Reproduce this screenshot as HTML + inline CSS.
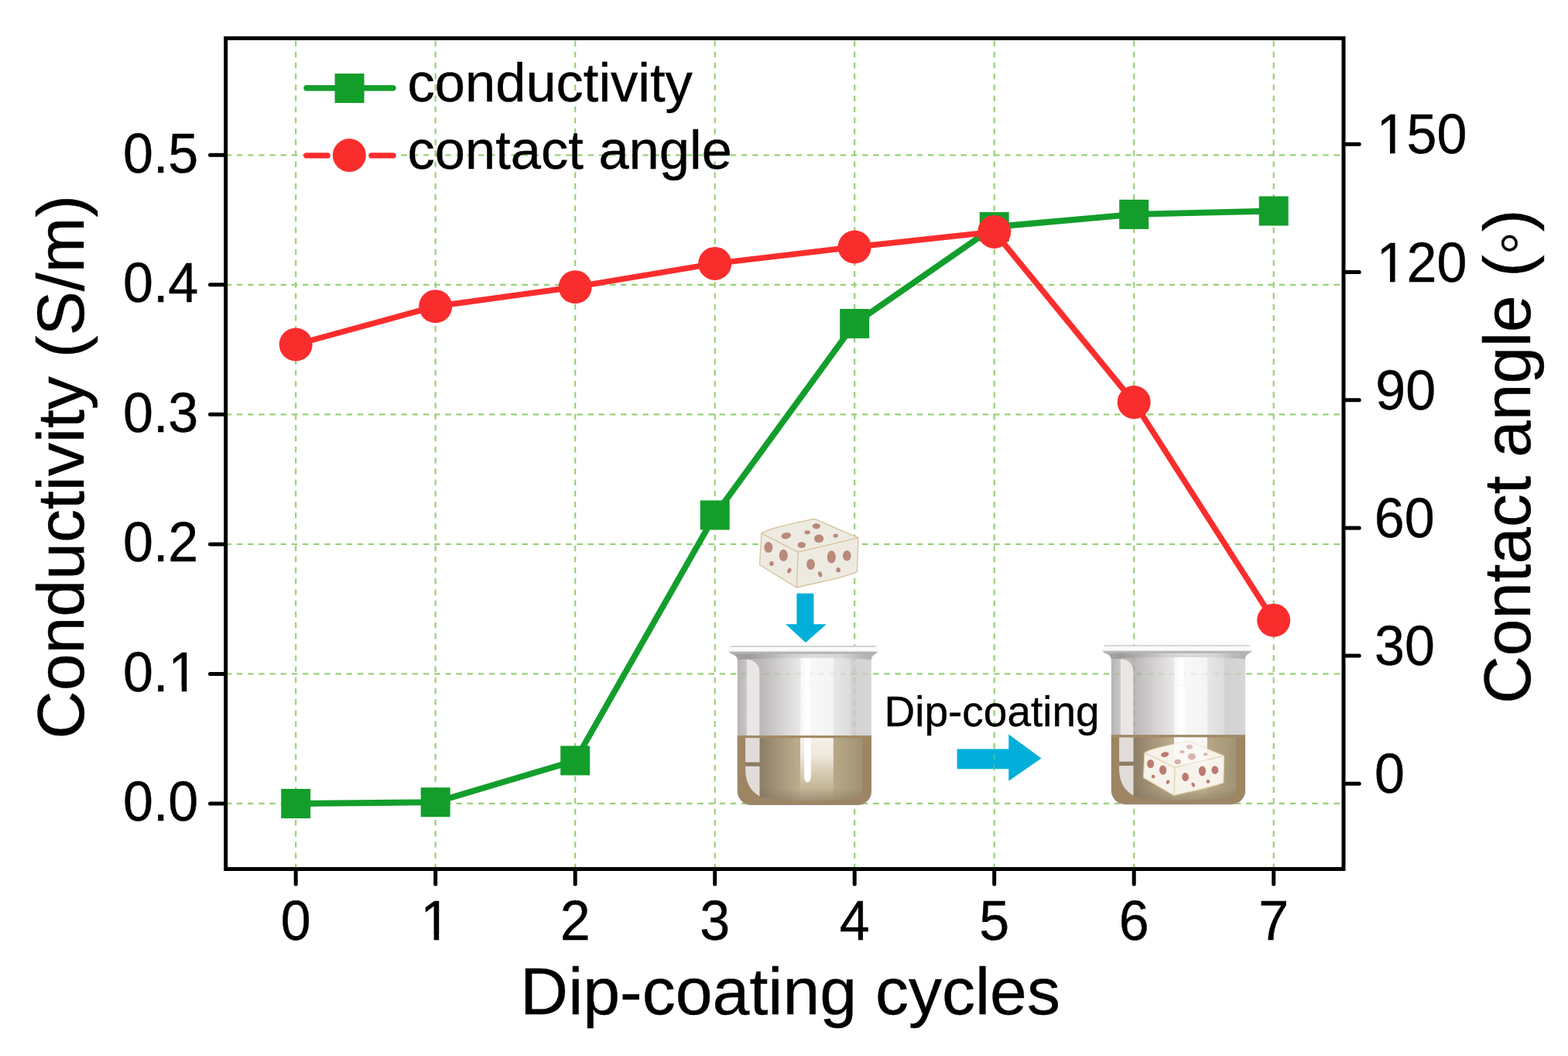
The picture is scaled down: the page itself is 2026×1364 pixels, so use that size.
<!DOCTYPE html>
<html><head><meta charset="utf-8">
<style>
html,body{margin:0;padding:0;background:#fff;}
body{width:2026px;height:1364px;overflow:hidden;}
svg{display:block;}
text{font-family:"Liberation Sans",Arial,sans-serif;fill:#000;stroke:#000;stroke-width:0.4px;}
</style></head>
<body>
<svg width="2026" height="1364" viewBox="0 0 2026 1364">
<rect x="0" y="0" width="2026" height="1364" fill="#fff"/>
<!-- grid -->
<g stroke="#98d178" stroke-width="2.2" stroke-dasharray="7.5 6.676" fill="none">
  <path d="M382.2 52.5V1120M562.7 52.5V1120M743.2 52.5V1120M923.7 52.5V1120M1104.2 52.5V1120M1284.7 52.5V1120M1465.2 52.5V1120M1645.7 52.5V1120"/>
  <path d="M291.7 1037.9H1734M291.7 870.4H1734M291.7 702.9H1734M291.7 535.3H1734M291.7 367.8H1734M291.7 200.3H1734"/>
</g>
<!-- frame -->
<rect x="291.7" y="49.4" width="1444.3" height="1073.1" fill="none" stroke="#000" stroke-width="5"/>
<!-- ticks -->
<g stroke="#000" stroke-width="5" stroke-linecap="round">
  <path d="M271.5 1037.9H291M271.5 870.4H291M271.5 702.9H291M271.5 535.3H291M271.5 367.8H291M271.5 200.3H291"/>
  <path d="M1737 1012.2H1756.2M1737 847H1756.2M1737 681.9H1756.2M1737 516.7H1756.2M1737 351.5H1756.2M1737 186.3H1756.2"/>
  <path d="M382.2 1124V1142.1M562.7 1124V1142.1M743.2 1124V1142.1M923.7 1124V1142.1M1104.2 1124V1142.1M1284.7 1124V1142.1M1465.2 1124V1142.1M1645.7 1124V1142.1"/>
</g>
<!-- left tick labels -->
<g font-size="70" text-anchor="end">
  <text transform="translate(256.3 1060.3) scale(1 1.04)">0.0</text>
  <text transform="translate(256.3 892.8) scale(1 1.04)">0.1</text>
  <text transform="translate(256.3 725.3) scale(1 1.04)">0.2</text>
  <text transform="translate(256.3 557.7) scale(1 1.04)">0.3</text>
  <text transform="translate(256.3 390.2) scale(1 1.04)">0.4</text>
  <text transform="translate(256.3 222.7) scale(1 1.04)">0.5</text>
</g>
<!-- right tick labels -->
<g font-size="70" text-anchor="middle">
  <text transform="translate(1795.4 1024.2) scale(1 1.04)">0</text>
  <text transform="translate(1815.0 859.0) scale(1 1.04)">30</text>
  <text transform="translate(1814.8 693.9) scale(1 1.04)">60</text>
  <text transform="translate(1816.2 528.7) scale(1 1.04)">90</text>
  <text transform="translate(1837.0 363.5) scale(1 1.04)">120</text>
  <text transform="translate(1837.0 198.3) scale(1 1.04)">150</text>
</g>
<!-- x tick labels -->
<g font-size="70" text-anchor="middle">
  <text transform="translate(382.2 1214.0) scale(1 1.04)">0</text>
  <text transform="translate(562.7 1214.0) scale(1 1.04)">1</text>
  <text transform="translate(743.2 1214.0) scale(1 1.04)">2</text>
  <text transform="translate(923.7 1214.0) scale(1 1.04)">3</text>
  <text transform="translate(1104.2 1214.0) scale(1 1.04)">4</text>
  <text transform="translate(1284.7 1214.0) scale(1 1.04)">5</text>
  <text transform="translate(1465.2 1214.0) scale(1 1.04)">6</text>
  <text transform="translate(1645.7 1214.0) scale(1 1.04)">7</text>
</g>
<!-- onefix --><g fill="#fff"><g transform="translate(256.3 892.8) scale(1 1.04)"><rect x="-34.61" y="-6.43" width="13.08" height="8.63"/><rect x="-14.94" y="-6.43" width="12.73" height="8.63"/></g><g transform="translate(1837.0 363.5) scale(1 1.04)"><rect x="-54.06" y="-6.43" width="13.08" height="8.63"/><rect x="-34.40" y="-6.43" width="12.73" height="8.63"/></g><g transform="translate(1837.0 198.3) scale(1 1.04)"><rect x="-54.06" y="-6.43" width="13.08" height="8.63"/><rect x="-34.40" y="-6.43" width="12.73" height="8.63"/></g><g transform="translate(562.7 1214.0) scale(1 1.04)"><rect x="-15.14" y="-6.43" width="13.08" height="8.63"/><rect x="4.52" y="-6.43" width="12.73" height="8.63"/></g></g><!-- /onefix -->
<!-- axis titles -->
<text x="1021" y="1310" font-size="86" text-anchor="middle">Dip-coating cycles</text>
<text transform="translate(108.3 603.2) rotate(-90)" font-size="86" text-anchor="middle">Conductivity (S/m)</text>
<text transform="translate(1977 589.8) rotate(-90)" font-size="85.5" text-anchor="middle">Contact angle (◦)</text>

<!-- INSET -->
<defs>
  <linearGradient id="rimG" x1="0" y1="0" x2="0" y2="1">
    <stop offset="0" stop-color="#c4c6c6"/>
    <stop offset="0.16" stop-color="#dcdede"/>
    <stop offset="0.22" stop-color="#fbfbfb"/>
    <stop offset="0.62" stop-color="#fafafa"/>
    <stop offset="0.74" stop-color="#c9cbcb"/>
    <stop offset="0.86" stop-color="#a9abab"/>
    <stop offset="1" stop-color="#b6b8b8"/>
  </linearGradient>
  <linearGradient id="glassG" x1="952.9" y1="0" x2="1126" y2="0" gradientUnits="userSpaceOnUse">
    <stop offset="0" stop-color="#a7a3a3"/>
    <stop offset="0.066" stop-color="#bcb8b8"/>
    <stop offset="0.067" stop-color="#a9a6a6"/>
    <stop offset="0.168" stop-color="#aaa7a7"/>
    <stop offset="0.272" stop-color="#c0bdbd"/>
    <stop offset="0.388" stop-color="#d6d4d3"/>
    <stop offset="0.469" stop-color="#e4e3e2"/>
    <stop offset="0.4745" stop-color="#f8f8f8"/>
    <stop offset="0.711" stop-color="#f2f2f2"/>
    <stop offset="0.722" stop-color="#e1e1e1"/>
    <stop offset="0.838" stop-color="#d5d5d5"/>
    <stop offset="0.850" stop-color="#c9c7c7"/>
    <stop offset="1" stop-color="#cfcdcd"/>
  </linearGradient>
  <linearGradient id="shoulderG" x1="941" y1="0" x2="1134.5" y2="0" gradientUnits="userSpaceOnUse">
    <stop offset="0" stop-color="#aeabab"/>
    <stop offset="0.12" stop-color="#9c9999"/>
    <stop offset="0.25" stop-color="#b0adad"/>
    <stop offset="0.4" stop-color="#cdcaca"/>
    <stop offset="0.55" stop-color="#dddbdb"/>
    <stop offset="0.75" stop-color="#d6d4d4"/>
    <stop offset="0.88" stop-color="#bdb9b9"/>
    <stop offset="1" stop-color="#b0acac"/>
  </linearGradient>
  <linearGradient id="liqG" x1="981.7" y1="0" x2="1114.3" y2="0" gradientUnits="userSpaceOnUse">
    <stop offset="0" stop-color="#8c7d66"/>
    <stop offset="0.15" stop-color="#a19176"/>
    <stop offset="0.39" stop-color="#bcae8d"/>
    <stop offset="0.72" stop-color="#b7a887"/>
    <stop offset="0.9" stop-color="#a99b7b"/>
    <stop offset="1" stop-color="#9d9379"/>
  </linearGradient>
  <linearGradient id="creamG" x1="0" y1="953" x2="0" y2="1032" gradientUnits="userSpaceOnUse">
    <stop offset="0" stop-color="#f4f1ea"/>
    <stop offset="0.3" stop-color="#eee8dc"/>
    <stop offset="0.65" stop-color="#d3c7ae" stop-opacity="0.9"/>
    <stop offset="1" stop-color="#c2b493" stop-opacity="0.3"/>
  </linearGradient>
  <linearGradient id="innerShade" x1="0" y1="1018" x2="0" y2="1035" gradientUnits="userSpaceOnUse">
    <stop offset="0" stop-color="#7a6d58" stop-opacity="0"/>
    <stop offset="1" stop-color="#7a6d58" stop-opacity="0.45"/>
  </linearGradient>
  <linearGradient id="creamEdge" x1="1034" y1="0" x2="1076.8" y2="0" gradientUnits="userSpaceOnUse">
    <stop offset="0" stop-color="#fff" stop-opacity="0"/>
    <stop offset="0.08" stop-color="#fff" stop-opacity="0.25"/>
    <stop offset="1" stop-color="#fff" stop-opacity="0"/>
  </linearGradient>
  <linearGradient id="band2" x1="0" y1="952" x2="0" y2="992" gradientUnits="userSpaceOnUse">
    <stop offset="0" stop-color="#fff" stop-opacity="0.55"/>
    <stop offset="0.85" stop-color="#fff" stop-opacity="0.4"/>
    <stop offset="1" stop-color="#fff" stop-opacity="0"/>
  </linearGradient>
  <g id="beakerBack">
    <path d="M952.9 845H1126V1021a18 18 0 0 1-18 18H970.9a18 18 0 0 1-18-18Z" fill="url(#glassG)" opacity="0.82"/>
    <path d="M1039.5 851H1046.5V885H1039.5Z" fill="#fff"/>
    <path d="M1038.8 887H1047.8V951H1038.8Z" fill="#fff" opacity="0.85"/>
    <path d="M964.6 852H965.6a15.7 15.5 0 0 1 15.7 15.5V950H964.6Z" fill="#e9e6e5"/>
    <path d="M952.9 950.3H1126V1022a18 18 0 0 1-18 18H970.9a18 18 0 0 1-18-18Z" fill="#9a928a"/>
    <path d="M952.9 950.3H1126V1021a18 18 0 0 1-18 18H970.9a18 18 0 0 1-18-18Z" fill="#9e8563"/>
    <path d="M952.9 950.3H1126V953.3H952.9Z" fill="#a48a64"/>
    <path d="M963.1 953.3H981.7V1028.5C970 1022 964 1012 963.1 996Z" fill="#e2dcd8"/>
    <path d="M963.1 984.6H983V989.8H963.1Z" fill="#8e7c64"/>
    <path d="M981.7 953.3H1114.3V1018a14 14 0 0 1-14 14C1060 1034 1020 1036 995 1032 988 1031 984 1030 981.7 1028.5Z" fill="url(#liqG)"/>
    <path d="M1034 953.3H1076.8V1032C1060 1033.5 1045 1033.5 1034 1033Z" fill="url(#creamG)"/>
    <path d="M981.7 1010H1114.3V1018a14 14 0 0 1-14 14C1060 1034 1020 1036 995 1032 988 1031 984 1030 981.7 1028.5Z" fill="url(#innerShade)"/>
    <path d="M1039 953.3H1047.8V1004a4.4 6.4 0 0 1-8.8 0Z" fill="#ffffff"/>
  </g>
  <g id="beakerFront">
    <path d="M943 844H1132.5C1128.5 845.5 1126.2 848 1125.8 852.2C1090 849 1000 849 952.9 852.2C952.5 848 949 845.5 943 844Z" fill="url(#shoulderG)"/>
    <rect x="941.2" y="834" width="193.4" height="10.6" rx="5.1" fill="url(#rimG)"/>
  </g>
  <g id="cube1"><path d="M983.9 688.9C994 682.5 1018 677.5 1052.4 670.1L1109 694.7L1107.4 738.6C1085 748 1055 752 1029.3 759L981.5 729.7Z" fill="#edebe1"/>
<g fill="#b98a7b"><ellipse cx="1015.8" cy="692" rx="6.3" ry="4.1" transform="rotate(-12 1015.8 692)"/><ellipse cx="1043.1" cy="687.6" rx="3.8" ry="2.6"/><ellipse cx="1054.8" cy="679.6" rx="5.1" ry="3.7"/><ellipse cx="1058.1" cy="695.7" rx="6.2" ry="5.4"/><ellipse cx="1079.7" cy="692" rx="3.3" ry="2.4"/><ellipse cx="1035.8" cy="704" rx="5.3" ry="3.9"/><ellipse cx="992.9" cy="707" rx="5.5" ry="7"/><ellipse cx="1012.3" cy="717.4" rx="5.6" ry="7.7"/><ellipse cx="996.9" cy="728" rx="2.8" ry="2.9"/><ellipse cx="1019.8" cy="737" rx="2.5" ry="3.5" transform="rotate(20 1019.8 737)"/><ellipse cx="1047.5" cy="729" rx="5.4" ry="7.1"/><ellipse cx="1074.3" cy="719.4" rx="5.6" ry="8.1"/><ellipse cx="1094.3" cy="717.8" rx="5.4" ry="6.8"/><ellipse cx="1059.7" cy="741.7" rx="2.5" ry="3.8" transform="rotate(-20 1059.7 741.7)"/><ellipse cx="1083.2" cy="736.3" rx="2.8" ry="3.2"/></g>
<g fill="none" stroke="#d6c19d" stroke-width="1.3" stroke-linejoin="round"><path d="M983.9 688.9C994 682.5 1018 677.5 1052.4 670.1L1109 694.7L1107.4 738.6C1085 748 1055 752 1029.3 759L981.5 729.7Z"/><path d="M983.9 688.9L1031.2 713.2L1109 694.7M1031.2 713.2L1029.3 759"/></g></g>
  <g id="cube2"><path d="M983.9 688.9C994 682.5 1018 677.5 1052.4 670.1L1109 694.7L1107.4 738.6C1085 748 1055 752 1029.3 759L981.5 729.7Z" fill="#f5f3eb"/>
<g fill="#bd7a70"><ellipse cx="1015.8" cy="692" rx="6.3" ry="4.1" transform="rotate(-12 1015.8 692)"/><ellipse cx="1043.1" cy="687.6" rx="3.8" ry="2.6"/><ellipse cx="1054.8" cy="679.6" rx="5.1" ry="3.7"/><ellipse cx="1058.1" cy="695.7" rx="6.2" ry="5.4"/><ellipse cx="1079.7" cy="692" rx="3.3" ry="2.4"/><ellipse cx="1035.8" cy="704" rx="5.3" ry="3.9"/><ellipse cx="992.9" cy="707" rx="5.5" ry="7"/><ellipse cx="1012.3" cy="717.4" rx="5.6" ry="7.7"/><ellipse cx="996.9" cy="728" rx="2.8" ry="2.9"/><ellipse cx="1019.8" cy="737" rx="2.5" ry="3.5" transform="rotate(20 1019.8 737)"/><ellipse cx="1047.5" cy="729" rx="5.4" ry="7.1"/><ellipse cx="1074.3" cy="719.4" rx="5.6" ry="8.1"/><ellipse cx="1094.3" cy="717.8" rx="5.4" ry="6.8"/><ellipse cx="1059.7" cy="741.7" rx="2.5" ry="3.8" transform="rotate(-20 1059.7 741.7)"/><ellipse cx="1083.2" cy="736.3" rx="2.8" ry="3.2"/></g>
<g fill="none" stroke="#e2cfa9" stroke-width="1.4" stroke-linejoin="round"><path d="M983.9 688.9C994 682.5 1018 677.5 1052.4 670.1L1109 694.7L1107.4 738.6C1085 748 1055 752 1029.3 759L981.5 729.7Z"/><path d="M983.9 688.9L1031.2 713.2L1109 694.7M1031.2 713.2L1029.3 759"/></g></g>
</defs>
<use href="#cube1"/>
<path d="M1029.4 766.6H1051.4V806.2H1067.9L1041 830.1L1015 806.2H1029.4Z" fill="#01afda"/>
<use href="#beakerBack"/>
<use href="#beakerFront"/>
<g transform="translate(483 -0.8)"><use href="#beakerBack"/></g>
<g transform="matrix(0.8204 -0.0054 0.0122 0.7895 663.33 433.73)"><use href="#cube2"/></g>
<g transform="translate(483 -0.8)">
  <path d="M1034 953.3H1076.8V992H1034Z" fill="url(#band2)"/>
  <use href="#beakerFront"/>
</g>
<clipPath id="arrowClip"><path d="M1236.6 967.4H1303.3V948.4L1345.5 979.5L1303.3 1008.8V993.3H1236.6Z"/></clipPath>
<path d="M1236.6 967.4H1303.3V948.4L1345.5 979.5L1303.3 1008.8V993.3H1236.6Z" fill="#01afda"/>
<path d="M1284.7 52.5V1120" stroke="#98d178" stroke-width="2.2" stroke-dasharray="7.5 6.676" clip-path="url(#arrowClip)" opacity="0.45"/>
<text x="1142.5" y="938" font-size="55">Dip-coating</text>

<!-- data lines -->
<polyline fill="none" stroke="#139e2b" stroke-width="7.8" stroke-linejoin="round" points="382.2,1038 562.7,1036.2 743.2,982.4 923.7,665.4 1104.2,418 1284.7,293 1465.2,276.9 1645.7,272.5"/>
<g fill="#139e2b">
  <rect x="363.2" y="1019" width="38" height="38"/>
  <rect x="543.7" y="1017.2" width="38" height="38"/>
  <rect x="724.2" y="963.4" width="38" height="38"/>
  <rect x="904.7" y="646.4" width="38" height="38"/>
  <rect x="1085.2" y="399" width="38" height="38"/>
  <rect x="1265.7" y="274" width="38" height="38"/>
  <rect x="1446.2" y="257.9" width="38" height="38"/>
  <rect x="1626.7" y="253.5" width="38" height="38"/>
</g>
<polyline fill="none" stroke="#fa2d2d" stroke-width="7.5" stroke-linejoin="round" points="382.2,445 562.7,395.7 743.2,370.7 923.7,340.4 1104.2,319 1284.7,299.4 1465.2,519.6 1645.7,801.2"/>
<g fill="#fa2d2d">
  <circle cx="382.2" cy="445" r="21.5"/>
  <circle cx="562.7" cy="395.7" r="21.5"/>
  <circle cx="743.2" cy="370.7" r="21.5"/>
  <circle cx="923.7" cy="340.4" r="21.5"/>
  <circle cx="1104.2" cy="319" r="21.5"/>
  <circle cx="1284.7" cy="299.4" r="21.5"/>
  <circle cx="1465.2" cy="519.6" r="21.5"/>
  <circle cx="1645.7" cy="801.2" r="21.5"/>
</g>
<!-- legend -->
<path d="M396 113.8H508" stroke="#139e2b" stroke-width="7.4" stroke-linecap="round"/>
<rect x="432.6" y="95" width="38" height="38" fill="#139e2b"/>
<path d="M396 200.9H423M480 200.9H508" stroke="#fa2d2d" stroke-width="7.4" stroke-linecap="round"/>
<circle cx="451.4" cy="200.6" r="21.5" fill="#fa2d2d"/>
<text x="526.5" y="131" font-size="70.5">conductivity</text>
<text x="526.5" y="217.7" font-size="70.5">contact angle</text>
</svg>
</body></html>
